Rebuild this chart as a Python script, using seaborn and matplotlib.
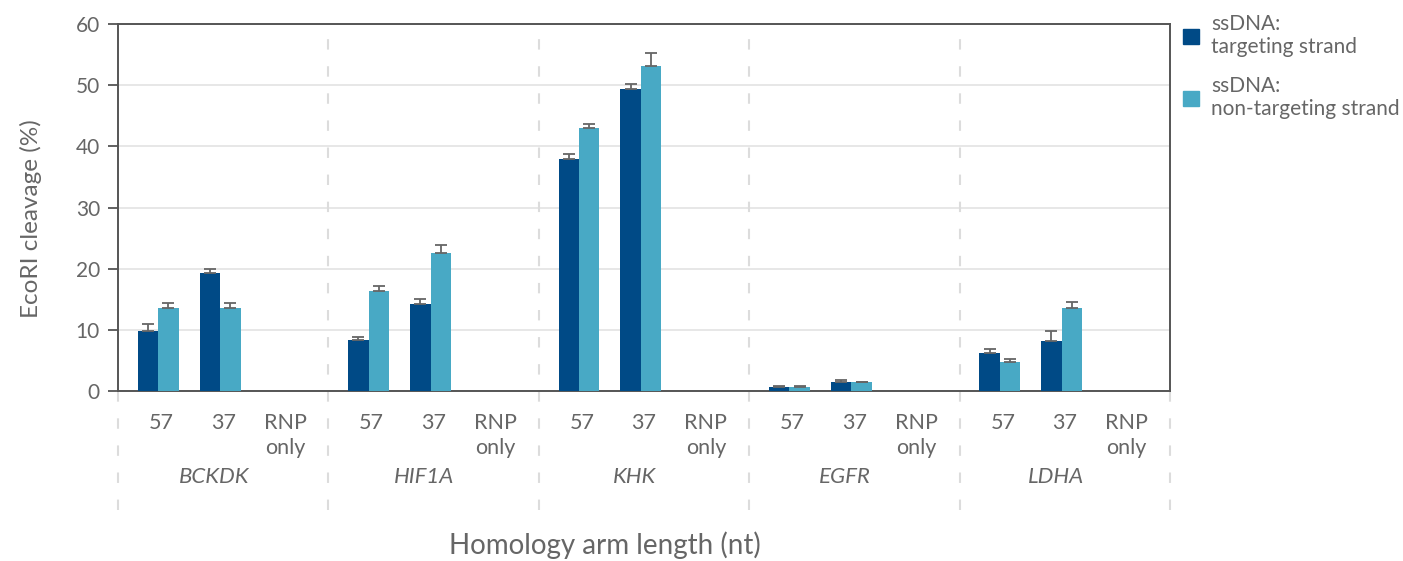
import numpy as np
import pandas as pd
import matplotlib
matplotlib.use('Agg')
from matplotlib import pyplot as plt
import matplotlib.transforms as mtransforms
import seaborn as sns

# 데이터
genes = ['BCKDK', 'HIF1A', 'KHK', 'EGFR', 'LDHA']
arm_lengths = ['57', '37', 'RNP\nonly']
series = ['ssDNA:\ntargeting strand', 'ssDNA:\nnon-targeting strand']

targeting = [9.8, 19.3, 0, 8.4, 14.3, 0, 37.9, 49.4, 0, 0.6, 1.4, 0, 6.2, 8.1, 0]
targeting_top = [11.0, 19.9, np.nan, 8.9, 15.1, np.nan, 38.7, 50.2, np.nan,
                 0.8, 1.8, np.nan, 6.8, 9.8, np.nan]
non_targeting = [13.6, 13.6, 0, 16.4, 22.6, 0, 43.0, 53.1, 0, 0.6, 1.4, 0, 4.7, 13.5, 0]
non_targeting_top = [14.4, 14.4, np.nan, 17.2, 23.9, np.nan, 43.7, 55.3, np.nan,
                     0.8, 1.5, np.nan, 5.3, 14.6, np.nan]

colors = ['#004a86', '#48a9c5']
text_color = '#666666'
spine_color = '#555555'

GROUP = 3.4  # 유전자 그룹 폭 (슬롯 단위)
positions = [g * GROUP + 0.65 + s for g in range(len(genes)) for s in range(len(arm_lengths))]
label_positions = [p + 0.05 for p in positions]

df = pd.DataFrame({
    'pos': positions * 2,
    'value': targeting + non_targeting,
    'series': [series[0]] * len(positions) + [series[1]] * len(positions),
})

sns.set_style('white')
plt.rcParams['font.family'] = ['Lato', 'DejaVu Sans']

fig = plt.figure(figsize=(14.03, 5.61), dpi=100)
ax = fig.add_axes([118 / 1403, 1 - 391 / 561, (1170 - 118) / 1403, (391 - 24) / 561])

sns.barplot(data=df, x='pos', y='value', hue='series', hue_order=series,
            palette=colors, native_scale=True, width=0.66, errorbar=None,
            saturation=1, ax=ax, legend=False, zorder=3, linewidth=0)

# 에러바 (위쪽만)
for container, tops in zip(ax.containers, [targeting_top, non_targeting_top]):
    for bar, top in zip(container, tops):
        if np.isnan(top):
            continue
        cx = bar.get_x() + bar.get_width() / 2
        h = bar.get_height()
        ax.errorbar(cx, h, yerr=[[0], [top - h]], fmt='none', ecolor='#666666',
                    elinewidth=1.3, capsize=4.5, capthick=1.3, zorder=4)

ax.set_xlim(0, GROUP * len(genes))
ax.set_ylim(0, 60)
ax.set_yticks(range(0, 61, 10))
ax.yaxis.grid(True, color='#e3e3e3', linewidth=1.2, zorder=0)
ax.set_axisbelow(True)

for side in ['left', 'bottom', 'top', 'right']:
    ax.spines[side].set_visible(True)
    ax.spines[side].set_color(spine_color)
    ax.spines[side].set_linewidth(1.4)

ax.set_xticks(label_positions)
ax.set_xticklabels(arm_lengths * len(genes), fontsize=15.5, color=text_color,
                   va='top', linespacing=1.3)
ax.tick_params(axis='x', length=0, pad=16)
ax.tick_params(axis='y', length=7, width=1.3, color=spine_color,
               labelsize=15, labelcolor=text_color, pad=6, left=True)

ax.set_ylabel('EcoRI cleavage (%)', fontsize=17.5, color=text_color, labelpad=24)
ax.yaxis.label.set_y(0.47)
ax.set_xlabel('Homology arm length (nt)', fontsize=20, color=text_color, labelpad=53)
ax.xaxis.label.set_x(0.463)

# 그룹 구분 점선
trans = mtransforms.blended_transform_factory(ax.transData, ax.transAxes)
for g in range(len(genes) + 1):
    x = g * GROUP
    top = 0 if g in (0, len(genes)) else 1
    ax.plot([x, x], [-0.324, top], transform=trans, clip_on=False,
            color='#dcdcdc', linewidth=1.5, linestyle=(0, (5, 8)), zorder=1)

for g, gene in enumerate(genes):
    ax.text(g * GROUP + GROUP / 2 - 0.15, -0.235, gene, transform=trans,
            ha='center', va='center', fontsize=16, style='italic', color=text_color)

# 범례
handles = [plt.Rectangle((0, 0), 1, 1, color=c) for c in colors]
fig.legend(handles, series, loc='upper left', bbox_to_anchor=(1175 / 1403, 0.99),
           frameon=False, fontsize=15, labelcolor=text_color, handlelength=0.75,
           handleheight=0.75, handletextpad=0.6, labelspacing=0.9, borderaxespad=0)

fig.savefig('out.png', dpi=100)
